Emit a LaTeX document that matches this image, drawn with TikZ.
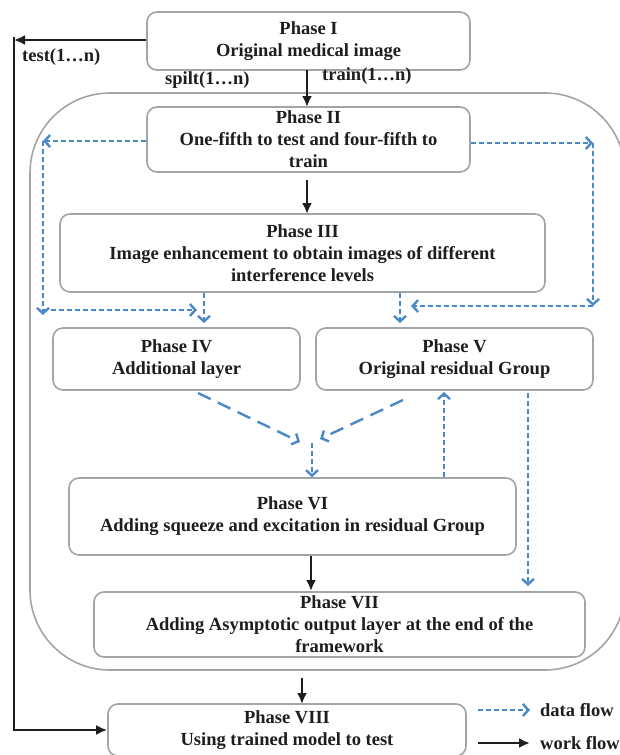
\documentclass[tikz,border=0pt]{standalone}
\usepackage{fontspec}
\setmainfont{Liberation Serif}
\usetikzlibrary{arrows.meta}
\definecolor{flowblue}{HTML}{4A88C7}
\definecolor{boxgray}{HTML}{A0A6A6}
\definecolor{ink}{HTML}{1E1E1E}
\begin{document}
\begin{tikzpicture}[x=1pt,y=-1pt,
  phase/.style={draw=boxgray, line width=1.6pt, rounded corners=10pt, fill=white, align=center, text=ink, font=\bfseries\fontsize{18.5}{22}\selectfont, inner sep=0pt},
  work/.style={draw=ink, line width=2.4pt, -{Latex[length=11pt,width=10pt]}},
  data/.style={draw=flowblue, line width=2.4pt, dash pattern=on 5pt off 3pt, -{Straight Barb[length=5.5pt,width=12pt,line width=2.4pt]}},
  longdata/.style={data, dash pattern=on 14pt off 8pt},
  lbl/.style={text=ink, font=\bfseries\fontsize{18.5}{22}\selectfont, inner sep=0pt}]
\useasboundingbox (0,0) rectangle (620,755);
% outer frame
\draw[boxgray, line width=1.6pt, rounded corners=80pt] (30,93) rectangle (625,670);
% phases
\node[phase, minimum width=323pt, minimum height=58pt] (p1) at (308.5,41) {Phase I\\Original medical image};
\node[phase, minimum width=323pt, minimum height=65pt] (p2) at (308.5,139.5) {Phase II\\One-fifth to test and four-fifth to\\train};
\node[phase, minimum width=485pt, minimum height=78pt] (p3) at (302.5,253) {Phase III\\Image enhancement to obtain images of different\\interference levels};
\node[phase, minimum width=247pt, minimum height=62pt] (p4) at (176.5,359) {Phase IV\\Additional layer};
\node[phase, minimum width=277pt, minimum height=62pt] (p5) at (454.5,359) {Phase V\\Original residual Group};
\node[phase, minimum width=447pt, minimum height=77pt] (p6) at (292.5,516.5) {Phase VI\\Adding squeeze and excitation in residual Group};
\node[phase, minimum width=491pt, minimum height=65pt] (p7) at (339.5,624.5) {Phase VII\\Adding Asymptotic output layer at the end of the\\framework};
\node[phase, minimum width=358pt, minimum height=52pt] (p8) at (287,730) {Phase VIII\\Using trained model to test};
% labels
\node[lbl, anchor=west] (ltest) at (22,57) {test(1…n)};
\node[lbl, anchor=west] (lsplit) at (165,80) {spilt(1…n)};
\node[lbl, anchor=west] (ltrain) at (322,76) {train(1…n)};
% work flow
\coordinate (tl) at (14,40);
\coordinate (bl) at (14,730);
\draw[work] (p1.west |- tl) -- (tl);
\draw[draw=ink, line width=2.4pt] (14,37) -- (bl);
\draw[work] ([xshift=-1.2pt]bl) -- (p8.west);
\draw[work] (307,70) -- (307,107);
\draw[work] (307,180) -- (307,214);
\draw[work] (311,556) -- (311,591);
\coordinate (ob) at (302,678);
\draw[work] (ob) -- (302,704);
% data flow
\coordinate (a1) at (43,141);
\coordinate (a2) at (43,315);
\coordinate (a3) at (593,143);
\coordinate (a4) at (593,306);
\draw[data] (p2.west |- a1) -- (a1);
\draw[data] (a1) -- (a2);
\draw[data] (43,310) -- (197,310);
\draw[data] (204,293) -- (204,323);
\draw[data] (p2.east |- a3) -- (a3);
\draw[data] (a3) -- (a4);
\draw[data] (a4) -- (411,306);
\draw[data] (400,293) -- (400,323);
\draw[longdata] (198,393) -- (300,442);
\draw[longdata] (403,400) -- (320,439);
\draw[data] (312,443) -- (p6.north -| 312,0);
\draw[data] (444,477) -- (444,392);
\draw[data] (528,393) -- (528,586);
% legend
\draw[data] (478,710) -- (530,710);
\node[lbl, anchor=west] (ldata) at (540,710) {data flow};
\draw[work] (478,743) -- (530,743);
\node[lbl, anchor=west] (lwork) at (540,743) {work flow};
\end{tikzpicture}
\end{document}
